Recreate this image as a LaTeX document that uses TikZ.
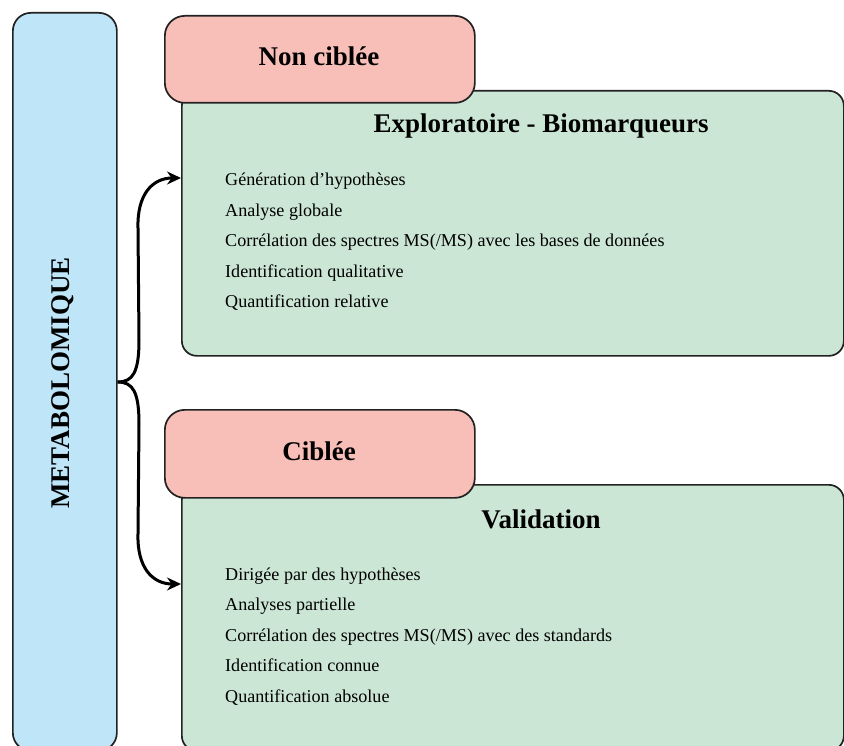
\documentclass[tikz,border=0pt]{standalone}
\usepackage{fontspec}
\setmainfont{Liberation Serif}
\usetikzlibrary{arrows.meta}
\definecolor{blueF}{HTML}{BEE5F8}
\definecolor{pinkF}{HTML}{F8BEB8}
\definecolor{greenF}{HTML}{CCE6D5}
\definecolor{edge}{HTML}{222222}
\begin{document}
\begin{tikzpicture}[x=1pt,y=-1pt,
  box/.style={draw=edge, line width=1.7pt, anchor=north west, inner sep=0pt},
  bluebox/.style={box, fill=blueF, rounded corners=18pt},
  pinkbox/.style={box, fill=pinkF, rounded corners=20pt},
  greenbox/.style={box, fill=greenF, rounded corners=15pt},
  title/.style={font=\fontsize{27}{31}\selectfont\bfseries, inner sep=0pt, anchor=base},
  item/.style={font=\fontsize{18.1}{21}\selectfont, inner sep=0pt, anchor=base west},
  conn/.style={line width=3pt, -{Stealth[length=14pt,width=13pt]}}
]
\useasboundingbox (0,0) rectangle (844,746);
\clip (0,0) rectangle (844,746);

\node[bluebox, minimum width=104pt, minimum height=738pt] (meta) at (12,12) {};
\node[font=\fontsize{27}{31}\selectfont\bfseries, rotate=90, inner sep=0pt] (metalbl) at (63,383) {METABOLOMIQUE};

\node[greenbox, minimum width=662pt, minimum height=265pt] (g1) at (181,90) {};
\node[greenbox, minimum width=662pt, minimum height=266pt] (g2) at (181,484) {};
\node[pinkbox, minimum width=310pt, minimum height=87pt] (p1) at (164,15) {};
\node[pinkbox, minimum width=310pt, minimum height=88pt] (p2) at (164,409) {};

\node[title] (t1) at (319,66) {Non ciblée};
\node[title] (t2) at (541,133) {Exploratoire - Biomarqueurs};
\node[title] (t3) at (319,460) {Ciblée};
\node[title] (t4) at (541,528) {Validation};

\node[item] (a1) at (225,186) {Génération d’hypothèses};
\node[item] (a2) at (225,216.5) {Analyse globale};
\node[item] (a3) at (225,247) {Corrélation des spectres MS(/MS) avec les bases de données};
\node[item] (a4) at (225,277.5) {Identification qualitative};
\node[item] (a5) at (225,308) {Quantification relative};

\node[item] (b1) at (225,580) {Dirigée par des hypothèses};
\node[item] (b2) at (225,610.5) {Analyses partielle};
\node[item] (b3) at (225,641) {Corrélation des spectres MS(/MS) avec des standards};
\node[item] (b4) at (225,671.5) {Identification connue};
\node[item] (b5) at (225,702) {Quantification absolue};

\coordinate (j) at (meta.east |- 0,382);
\coordinate (e1) at (g1.west |- 0,178);
\coordinate (e2) at (g2.west |- 0,584);
\draw[conn] (j) .. controls (133,382) and (139,372) .. (139,340)
  -- (138,228) .. controls (137,195) and (152,178) .. (e1);
\draw[conn] (j) .. controls (133,382) and (139,392) .. (139,424)
  -- (138,534) .. controls (137,567) and (152,584) .. (e2);
\end{tikzpicture}
\end{document}
